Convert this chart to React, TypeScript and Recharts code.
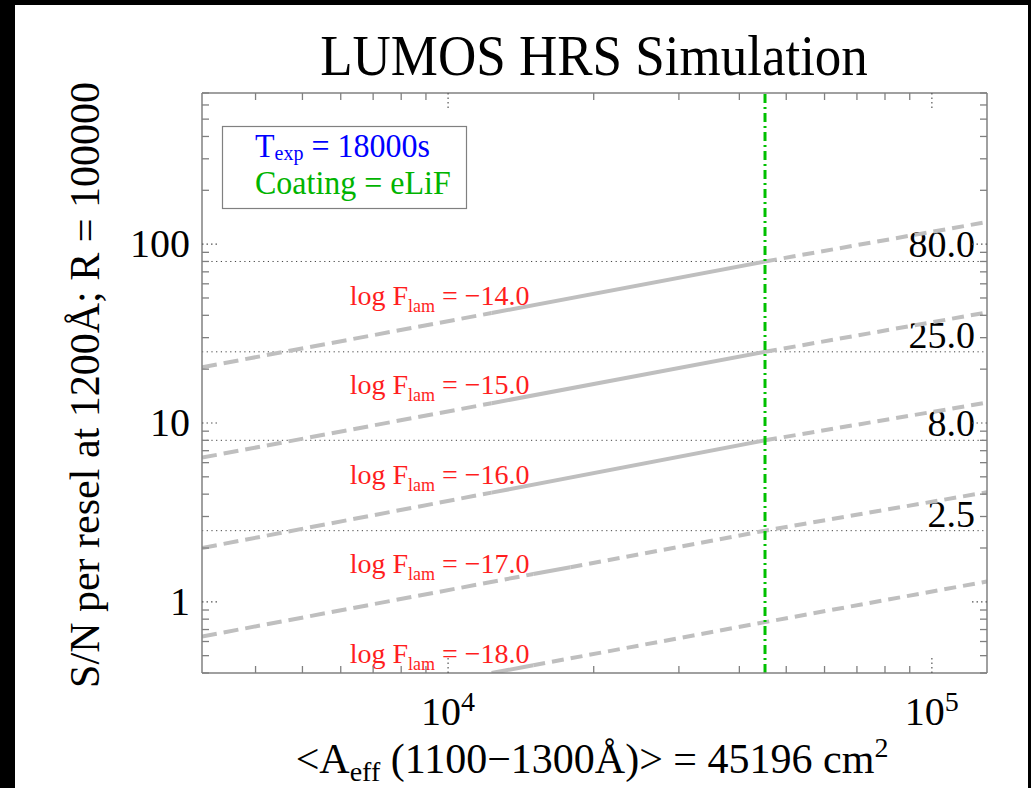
import React from 'react';
import { LineChart, Line, XAxis, YAxis, ReferenceLine, ReferenceDot } from 'recharts';

// ---- data ----
const aeff = [3100, 12300, 15000, 17900, 45196, 130000];
const sn14Left = [20.5, 41.2, null, null, null, null];
const sn14Mid = [null, 41.2, null, null, 80, null];
const sn14Right = [null, null, null, null, 80, 133];
const sn15Left = [6.4, 12.9, null, null, null, null];
const sn15Mid = [null, 12.9, null, null, 25, null];
const sn15Right = [null, null, null, null, 25, 41.5];
const sn16Left = [2.0, 4.08, null, null, null, null];
const sn16Mid = [null, 4.08, null, null, 8, null];
const sn16Right = [null, null, null, null, 8, 13];
const sn17Left = [0.64, null, 1.43, null, null, null];
const sn17Mid = [null, null, 1.43, 1.56, null, null];
const sn17Right = [null, null, null, 1.56, 2.5, 4.1];
const sn18Mid = [null, 0.4, 0.442, null, null, null];
const sn18Right = [null, null, 0.442, null, 0.77, 1.3];

const fluxLabels = ['\u221214.0', '\u221215.0', '\u221216.0', '\u221217.0', '\u221218.0'];
const fluxLabelSN = [45.7, 14.45, 4.57, 1.445, 0.457];
const fluxLabelAeff = 6260;
const snRefValues = [80, 25, 8, 2.5];
const snRefLabels = ['80.0', '25.0', '8.0', '2.5'];
const meanAeff = 45196;

const xTicks = [4000, 5000, 6000, 7000, 8000, 9000, 10000, 20000, 30000, 40000, 50000, 60000, 70000, 80000, 90000, 100000];
const yTicks = [0.4, 0.5, 0.6, 0.7, 0.8, 0.9, 1, 2, 3, 4, 5, 6, 7, 8, 9, 10, 20, 30, 40, 50, 60, 70, 80, 90, 100, 200, 300, 400, 500, 600, 700];
const xDomain = [3100, 130000];
const yDomain = [0.4, 700];

const data = aeff.map((a, i) => ({
  aeff: a,
  s14a: sn14Left[i], s14b: sn14Mid[i], s14c: sn14Right[i],
  s15a: sn15Left[i], s15b: sn15Mid[i], s15c: sn15Right[i],
  s16a: sn16Left[i], s16b: sn16Mid[i], s16c: sn16Right[i],
  s17a: sn17Left[i], s17b: sn17Mid[i], s17c: sn17Right[i],
  s18b: sn18Mid[i], s18c: sn18Right[i],
}));

const FONT = '"Liberation Serif", "Times New Roman", serif';
const FRAME = '#808080';
const LINE_GRAY = '#bfbfbf';
const RED = '#ff1e1e';

function isMajor(v: number) {
  const l = Math.log10(v);
  return Math.abs(l - Math.round(l)) < 1e-6;
}

function AxisTick(props: any) {
  const { payload, side } = props;
  const v = payload.value;
  const major = isMajor(v);
  const len = major ? 15 : 7;
  const x = props.x;
  const y = props.y;
  let c: number[];
  if (side === 'bottom') c = [x, y, x, y - len];
  else if (side === 'top') c = [x, y, x, y + len];
  else if (side === 'left') c = [x, y, x + len, y];
  else c = [x, y, x - len, y];
  const exp = Math.round(Math.log10(v));
  return (
    <g>
      <line x1={c[0]} y1={c[1]} x2={c[2]} y2={c[3]} stroke={major ? '#555' : FRAME}
        strokeWidth={major ? 1.2 : 1.3} strokeDasharray={major ? '1.5 3' : undefined} />
      {major && side === 'bottom' && (
        <text x={x} y={y + 52} textAnchor="middle" fontFamily={FONT} fontSize={40} fill="#000">
          <tspan>10</tspan>
          <tspan dy={-14} fontSize={28}>{exp}</tspan>
        </text>
      )}
      {major && side === 'left' && (
        <text x={x - 12} y={y + 13} textAnchor="end" fontFamily={FONT} fontSize={40} fill="#000">
          {String(v)}
        </text>
      )}
    </g>
  );
}

function RefValueLabel(props: any) {
  const vb = props.viewBox || {};
  return (
    <text x={vb.x + vb.width - 12} y={vb.y - 4} textAnchor="end" fontFamily={FONT} fontSize={38} fill="#000">
      {props.text}
    </text>
  );
}

function FluxLabel(props: any) {
  const { cx, cy, text } = props;
  return (
    <text x={cx} y={cy} fontFamily={FONT} fontSize={28} fill={RED}>
      <tspan>log F</tspan>
      <tspan dy={7} fontSize={18}>lam</tspan>
      <tspan dy={-7}> = {text}</tspan>
    </text>
  );
}

const series = [
  { key: 's14a', dash: '15 7' }, { key: 's14b', dash: undefined }, { key: 's14c', dash: '12 7' },
  { key: 's15a', dash: '15 7' }, { key: 's15b', dash: undefined }, { key: 's15c', dash: '12 7' },
  { key: 's16a', dash: '15 7' }, { key: 's16b', dash: undefined }, { key: 's16c', dash: '12 7' },
  { key: 's17a', dash: '15 7' }, { key: 's17b', dash: undefined }, { key: 's17c', dash: '12 7' },
  { key: 's18b', dash: undefined }, { key: 's18c', dash: '12 7' },
];

export default function App() {
  return (
    <div style={{ position: 'fixed', left: 0, top: 0, width: 1031, height: 788, background: '#000', overflow: 'hidden' }}>
      <div style={{ position: 'absolute', left: 15, top: 5, width: 1013, height: 783, background: '#fff' }} />
      <div style={{ position: 'absolute', left: 0, top: 0 }}>
        <LineChart width={1031} height={788} data={data}
          margin={{ top: 92, left: 201, right: 43, bottom: 114 }}>
          <XAxis xAxisId="b" dataKey="aeff" type="number" scale="log" domain={xDomain} allowDataOverflow
            ticks={xTicks} interval={0} height={1} tickSize={0} tickMargin={0} tickLine={false}
            axisLine={{ stroke: FRAME, strokeWidth: 1.5 }} tick={<AxisTick side="bottom" />} />
          <XAxis xAxisId="t" orientation="top" dataKey="aeff" type="number" scale="log" domain={xDomain} allowDataOverflow
            ticks={xTicks} interval={0} height={1} tickSize={0} tickMargin={0} tickLine={false}
            axisLine={{ stroke: FRAME, strokeWidth: 1.5 }} tick={<AxisTick side="top" />} />
          <YAxis yAxisId="l" type="number" scale="log" domain={yDomain} allowDataOverflow
            ticks={yTicks} interval={0} width={1} tickSize={0} tickMargin={0} tickLine={false}
            axisLine={{ stroke: FRAME, strokeWidth: 1.5 }} tick={<AxisTick side="left" />} />
          <YAxis yAxisId="r" orientation="right" type="number" scale="log" domain={yDomain} allowDataOverflow
            ticks={yTicks} interval={0} width={1} tickSize={0} tickMargin={0} tickLine={false}
            axisLine={{ stroke: FRAME, strokeWidth: 1.5 }} tick={<AxisTick side="right" />} />
          {snRefValues.map((v, i) => (
            <ReferenceLine key={'r' + i} xAxisId="b" yAxisId="l" y={v} stroke="#444" strokeWidth={1}
              strokeDasharray="1.2 3.5" label={<RefValueLabel text={snRefLabels[i]} />} />
          ))}
          {series.map((s) => (
            <Line key={s.key} xAxisId="b" yAxisId="l" dataKey={s.key} type="linear" stroke={LINE_GRAY}
              strokeWidth={4} strokeDasharray={s.dash} dot={false} activeDot={false}
              connectNulls isAnimationActive={false} />
          ))}
          <ReferenceLine xAxisId="b" yAxisId="l" x={meanAeff} stroke="#00c000" strokeWidth={3}
            strokeDasharray="9 4 2 4" />
          {fluxLabels.map((t, i) => (
            <ReferenceDot key={'f' + i} xAxisId="b" yAxisId="l" x={fluxLabelAeff} y={fluxLabelSN[i]} r={0}
              shape={(p: any) => <FluxLabel {...p} text={t} />} />
          ))}
        </LineChart>
      </div>
      <div style={{ position: 'absolute', left: 0, top: 0, width: 1031, height: 788, pointerEvents: 'none' }}>
        <svg width={1031} height={788} style={{ position: 'absolute', left: 0, top: 0 }}>
          <text transform="translate(594,75) scale(1,1.08)" textAnchor="middle" fontFamily={FONT} fontSize={53} fill="#000">LUMOS HRS Simulation</text>
          <text transform="translate(99,385) rotate(-90)" textAnchor="middle" fontFamily={FONT} fontSize={42} fill="#000">
            S/N per resel at 1200Å; R = 100000
          </text>
          <text x={592} y={773} textAnchor="middle" fontFamily={FONT} fontSize={42} fill="#000">
            <tspan>&lt;A</tspan>
            <tspan dy={8} fontSize={28}>eff</tspan>
            <tspan dy={-8}> (1100{'\u2212'}1300Å)&gt; = 45196 cm</tspan>
            <tspan dy={-16} fontSize={28}>2</tspan>
          </text>
          <rect x={222.5} y={126.5} width={244} height={82} fill="none" stroke={FRAME} strokeWidth={1.2} />
          <text transform="translate(255,157) scale(1,1.06)" fontFamily={FONT} fontSize={32} fill="#0000ff">
            <tspan>T</tspan>
            <tspan dy={3} fontSize={20}>exp</tspan>
            <tspan dy={-3}> = 18000s</tspan>
          </text>
          <text transform="translate(255,194) scale(1,1.06)" fontFamily={FONT} fontSize={32} fill="#00b400">Coating = eLiF</text>
        </svg>
      </div>
    </div>
  );
}
